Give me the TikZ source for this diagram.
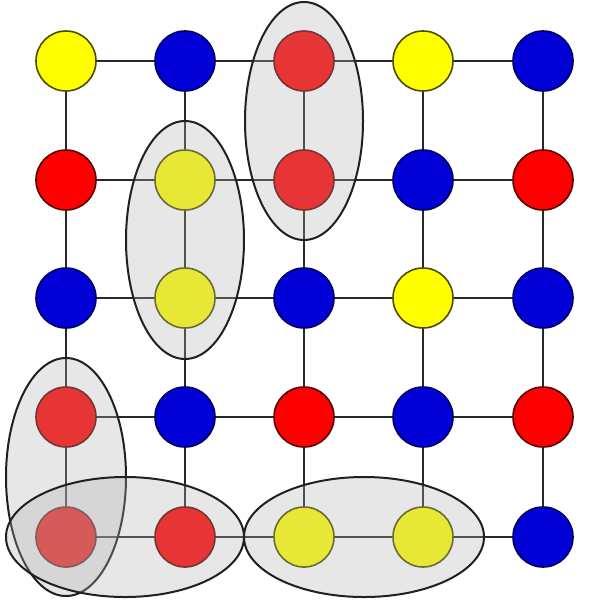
\documentclass[tikz,border=0pt]{standalone}
\usetikzlibrary{shapes.geometric,backgrounds}
\definecolor{cyel}{RGB}{255,255,0}
\definecolor{cblu}{RGB}{0,0,215}
\definecolor{cred}{RGB}{255,0,0}
\definecolor{edgec}{RGB}{40,40,40}
\definecolor{grpc}{RGB}{178,178,178}
\tikzset{
  dot/.style={circle, minimum size=60pt, inner sep=0pt, line width=1.6pt},
  Y/.style={dot, fill=cyel, draw=cyel!30!black},
  B/.style={dot, fill=cblu, draw=cblu!45!black},
  R/.style={dot, fill=cred, draw=cred!35!black},
  link/.style={draw=edgec, line width=2.6pt},
  grp/.style={draw=edgec!80!black, line width=2pt, fill=grpc, fill opacity=0.3}
}
\begin{document}
\begin{tikzpicture}[x=1pt,y=-1pt]
\useasboundingbox (0,0) rectangle (607,603);
% row 0
\node[Y] (n00) at (66,61) {};
\node[B] (n01) at (185,61) {};
\node[R] (n02) at (304,61) {};
\node[Y] (n03) at (423,61) {};
\node[B] (n04) at (543,61) {};
% row 1
\node[R] (n10) at (66,180) {};
\node[Y] (n11) at (185,180) {};
\node[R] (n12) at (304,180) {};
\node[B] (n13) at (423,180) {};
\node[R] (n14) at (543,180) {};
% row 2
\node[B] (n20) at (66,298) {};
\node[Y] (n21) at (185,298) {};
\node[B] (n22) at (304,298) {};
\node[Y] (n23) at (423,298) {};
\node[B] (n24) at (543,298) {};
% row 3
\node[R] (n30) at (66,417) {};
\node[B] (n31) at (185,417) {};
\node[R] (n32) at (304,417) {};
\node[B] (n33) at (423,417) {};
\node[R] (n34) at (543,417) {};
% row 4
\node[R] (n40) at (66,537) {};
\node[R] (n41) at (185,537) {};
\node[Y] (n42) at (304,537) {};
\node[Y] (n43) at (423,537) {};
\node[B] (n44) at (543,537) {};
% links (behind nodes)
\begin{scope}[on background layer]
\fill[white] (0,0) rectangle (607,603);
\foreach \r in {0,...,4}{
  \foreach \c [evaluate=\c as \d using int(\c+1)] in {0,...,3}{
    \draw[link] (n\r\c) -- (n\r\d);
  }
}
\foreach \c in {0,...,4}{
  \foreach \r [evaluate=\r as \s using int(\r+1)] in {0,...,3}{
    \draw[link] (n\r\c) -- (n\s\c);
  }
}
\end{scope}
% groups
\draw[grp] (304,121) ellipse (59 and 119);
\draw[grp] (185,240) ellipse (59 and 119);
\draw[grp] (66,477) ellipse (60 and 119);
\draw[grp] (125,537) ellipse (119 and 60);
\draw[grp] (364,537) ellipse (120 and 60);
\end{tikzpicture}
\end{document}
